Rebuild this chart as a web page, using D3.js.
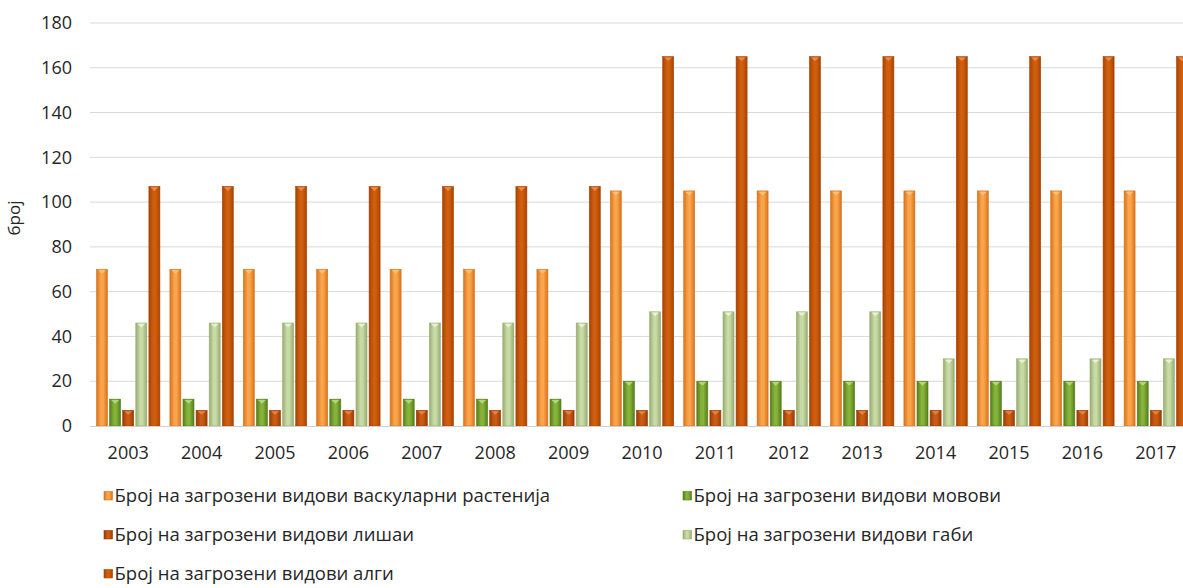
<!DOCTYPE html>
<html><head><meta charset="utf-8">
<script src="https://cdn.jsdelivr.net/npm/d3@7"></script>
<style>
body{margin:0;background:#fff;}
svg{display:block;font-family:"Open Sans","Noto Sans",sans-serif;}
</style></head>
<body><svg id="c" width="1183" height="588"></svg>
<script>
const years = ["2003","2004","2005","2006","2007","2008","2009","2010","2011","2012","2013","2014","2015","2016","2017"];
const seriesNames = [
  "Број на загрозени видови васкуларни растенија",
  "Број на загрозени видови мовови",
  "Број на загрозени видови лишаи",
  "Број на загрозени видови габи",
  "Број на загрозени видови алги"
];
const vascular = [70,70,70,70,70,70,70,105,105,105,105,105,105,105,105];
const mosses   = [12,12,12,12,12,12,12,20,20,20,20,20,20,20,20];
const lichens  = [7,7,7,7,7,7,7,7,7,7,7,7,7,7,7];
const fungi    = [46,46,46,46,46,46,46,51,51,51,51,30,30,30,30];
const algae    = [107,107,107,107,107,107,107,165,165,165,165,165,165,165,165];
const yTicks = [0,20,40,60,80,100,120,140,160,180];
const yTitle = "број";

const seriesValues = [vascular, mosses, lichens, fungi, algae];
const colors = [
  {edge:"#d9731c", mid:"#f8a54c", top:"#fcc27a"},
  {edge:"#567d1c", mid:"#86b33a", top:"#b8dc7a"},
  {edge:"#9c3a04", mid:"#c85c14", top:"#e48a48"},
  {edge:"#98ad70", mid:"#c8daa6", top:"#eaf4d8"},
  {edge:"#a84304", mid:"#cf5f0e", top:"#ec9050"}
];

const svg = d3.select("#c");
const defs = svg.append("defs");
colors.forEach((c,i)=>{
  const g = defs.append("linearGradient").attr("id","g"+i).attr("x1","0").attr("x2","1").attr("y1","0").attr("y2","0");
  g.append("stop").attr("offset","0").attr("stop-color",c.edge);
  g.append("stop").attr("offset","0.4").attr("stop-color",c.mid);
  g.append("stop").attr("offset","0.6").attr("stop-color",c.mid);
  g.append("stop").attr("offset","1").attr("stop-color",c.edge);
});

const plotLeft = 91.5, step = 73.4;
const x0 = d3.scaleBand().domain(years).range([plotLeft, plotLeft + step*years.length]).padding(0);
const x1 = d3.scaleBand().domain(d3.range(5)).range([5.0, step-5.0]).paddingInner(0.16).paddingOuter(0);
const y = d3.scaleLinear().domain([0,180]).range([426,23]);

// gridlines
svg.append("g").selectAll("line").data(yTicks.filter(d=>d>0)).join("line")
  .attr("x1",90).attr("x2",1183).attr("y1",d=>y(d)).attr("y2",d=>y(d))
  .attr("stroke","#d9d9d9").attr("stroke-width",1);

// y axis labels
const yAxis = d3.axisLeft(y).tickValues(yTicks).tickSize(0).tickPadding(0);
const ya = svg.append("g").attr("transform","translate(72,0)").call(yAxis);
ya.select(".domain").remove();
ya.selectAll("text").attr("font-size",18).attr("fill","#262626").attr("font-family","'Open Sans',sans-serif");

svg.append("text").attr("transform","translate(20,218) rotate(-90)")
  .attr("text-anchor","middle").attr("font-size",17).attr("fill","#262626").text(yTitle);

// bars
const groups = svg.append("g").selectAll("g").data(years).join("g")
  .attr("transform",d=>`translate(${x0(d)},0)`);
groups.each(function(yr, yi){
  const g = d3.select(this);
  seriesValues.forEach((vals, si)=>{
    const v = vals[yi];
    const bx = x1(si), bw = x1.bandwidth(), by = y(v), bh = y(0)-y(v);
    g.append("rect").attr("x",bx).attr("y",by).attr("width",bw).attr("height",bh)
      .attr("fill",`url(#g${si})`).attr("stroke",colors[si].edge).attr("stroke-width",0.6);
    g.append("path").attr("d",`M${bx+1.5},${by+0.8}L${bx+bw-1.5},${by+0.8}L${bx+bw/2},${by+4.5}Z`)
      .attr("fill",colors[si].top).attr("opacity",0.9);
  });
});

// baseline
svg.append("line").attr("x1",90).attr("x2",1183).attr("y1",426.5).attr("y2",426.5)
  .attr("stroke","#d0d0d0").attr("stroke-width",1.2);

// x axis labels
const xAxis = d3.axisBottom(x0).tickSize(0).tickPadding(0);
const xa = svg.append("g").attr("transform","translate(0,453)").call(xAxis);
xa.select(".domain").remove();
xa.selectAll("text").attr("font-size",18).attr("fill","#262626").attr("y",0).attr("dy","0.35em").attr("font-family","'Open Sans',sans-serif");

// legend
const legPos = [[104,496],[683,496],[104,535],[683,535],[104,574]];
const leg = svg.append("g").selectAll("g").data(seriesNames).join("g")
  .attr("transform",(d,i)=>`translate(${legPos[i][0]},${legPos[i][1]})`);
leg.append("rect").attr("x",0).attr("y",-4.5).attr("width",8.5).attr("height",8.5)
  .attr("fill",(d,i)=>`url(#g${i})`).attr("stroke",(d,i)=>colors[i].edge).attr("stroke-width",0.6);
leg.append("text").attr("x",10.5).attr("y",0).attr("dy","0.35em").attr("font-size",18.5)
  .attr("fill","#262626").text(d=>d);
</script>
</body></html>
